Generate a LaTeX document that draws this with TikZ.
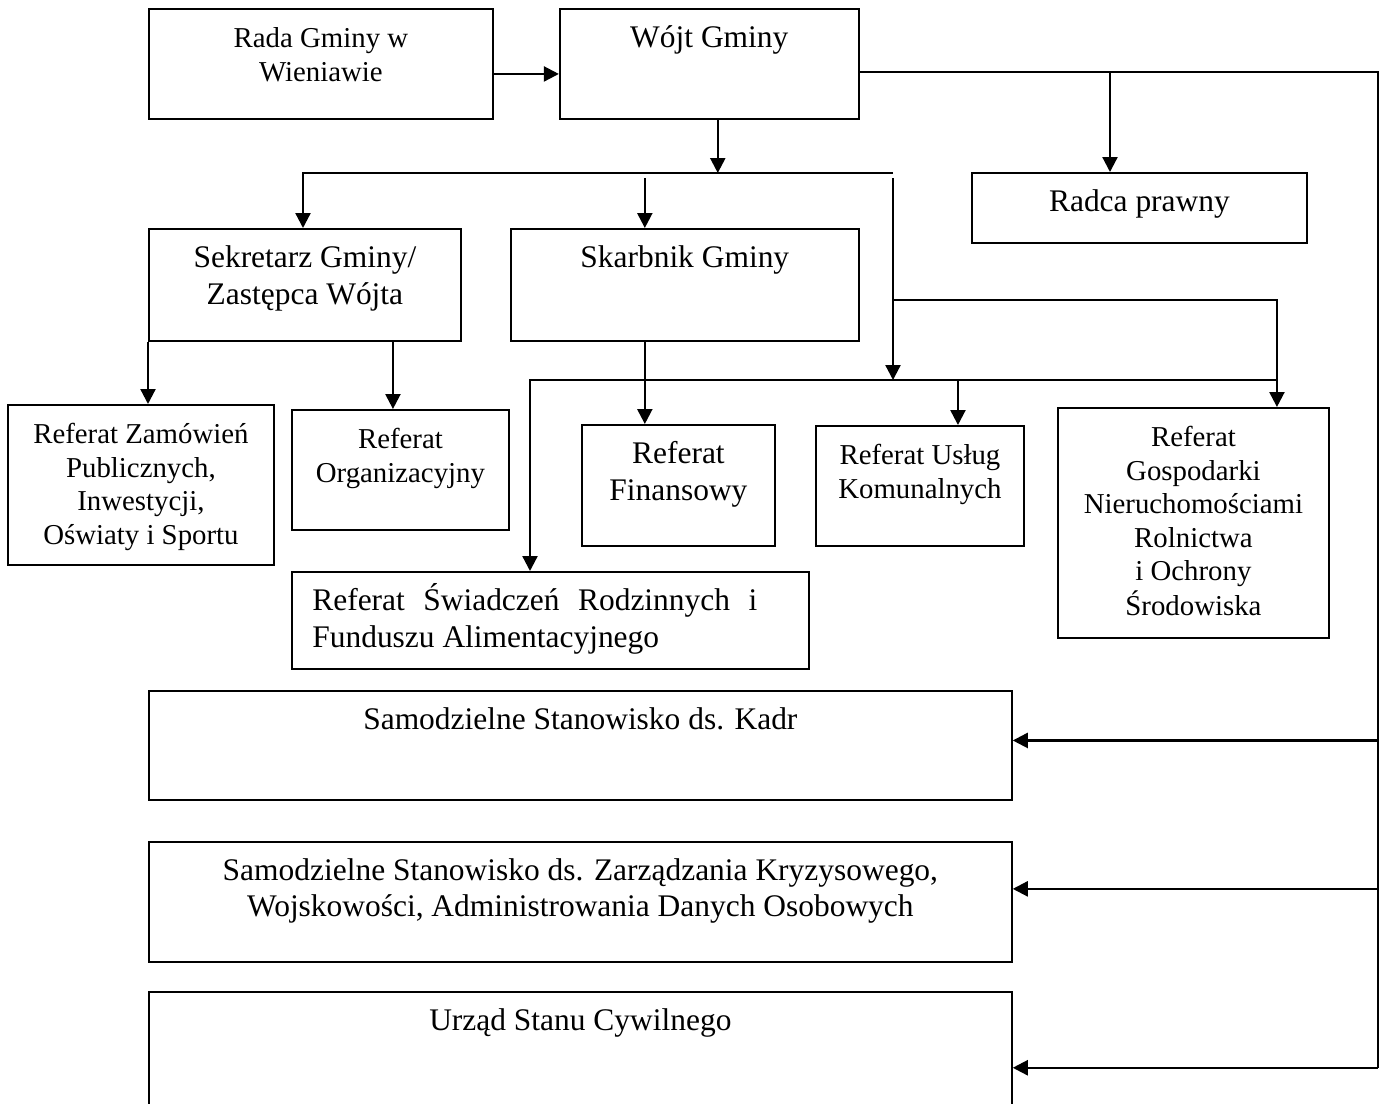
\documentclass[tikz,border=0pt]{standalone}
\usepackage{fontspec}
\setmainfont{Liberation Serif}
\usetikzlibrary{arrows.meta,positioning}

\newcommand{\duzy}{\fontsize{17.9pt}{20.8pt}\selectfont}
\newcommand{\maly}{\fontsize{16.4pt}{19.1pt}\selectfont}
\newcommand{\wiersze}[2][c]{\begin{tabular}[t]{@{}#1@{}}#2\end{tabular}}

\tikzset{
  ramka/.style={draw, line width=1.1pt, inner sep=0pt, anchor=north west},
  napis/.style={anchor=base, yshift=-0.79cm, inner sep=0pt, font=\duzy},
  linia/.style={line width=1.3pt},
  strzalka/.style={-{Triangle[length=0.3cm,width=0.3cm]}, line width=1.3pt}
}

\begin{document}
\begin{tikzpicture}[x=0.02cm, y=-0.02cm]
\useasboundingbox (0,0) rectangle (1380,1103);

% gora
\node[ramka, minimum width=6.88cm, minimum height=2.2cm,
      label={[napis, font=\maly]north:{\wiersze{Rada Gminy w\\Wieniawie}}}] (rada) at (148,8) {};
\node[ramka, right=1.3cm of rada, minimum width=5.98cm, minimum height=2.2cm,
      label={[napis]north:{Wójt Gminy}}] (wojt) {};
\node[ramka, minimum width=6.7cm, minimum height=1.4cm,
      label={[napis]north:{Radca prawny}}] (radca) at (971,172) {};

% sekretarz i skarbnik
\node[ramka, minimum width=6.24cm, minimum height=2.24cm,
      label={[napis]north:{\wiersze{Sekretarz Gminy/\\Zastępca Wójta}}}] (sekretarz) at (148,228) {};
\node[ramka, right=0.96cm of sekretarz, minimum width=6.96cm, minimum height=2.24cm,
      label={[napis]north:{Skarbnik Gminy}}] (skarbnik) {};

% referaty
\node[ramka, minimum width=5.32cm, minimum height=3.2cm,
      label={[napis, font=\maly]north:{\wiersze{Referat Zamówień\\Publicznych,\\Inwestycji,\\Oświaty i Sportu}}}] (zamowien) at (7,404) {};
\node[ramka, minimum width=4.34cm, minimum height=2.4cm,
      label={[napis, font=\maly]north:{\wiersze{Referat\\Organizacyjny}}}] (organiz) at (291,409) {};
\node[ramka, minimum width=3.86cm, minimum height=2.42cm,
      label={[napis]north:{\wiersze{Referat\\Finansowy}}}] (finansowy) at (581,424) {};
\node[ramka, minimum width=4.16cm, minimum height=2.4cm,
      label={[napis, font=\maly]north:{\wiersze{Referat Usług\\Komunalnych}}}] (uslug) at (815,425) {};
\node[ramka, minimum width=5.42cm, minimum height=4.6cm,
      label={[napis, font=\maly]north:{\wiersze{Referat\\Gospodarki\\Nieruchomościami\\Rolnictwa\\i Ochrony\\Środowiska}}}] (gosp) at (1057,407) {};
\node[ramka, minimum width=10.34cm, minimum height=1.94cm,
      label={[napis, anchor=base west, xshift=0.42cm]north west:{\wiersze[l]{\makebox[8.9cm][s]{Referat Świadczeń Rodzinnych i}\\Funduszu Alimentacyjnego}}}] (swiad) at (291,571) {};

% samodzielne stanowiska
\node[ramka, minimum width=17.26cm, minimum height=2.18cm,
      label={[napis]north:{Samodzielne Stanowisko ds. Kadr}}] (kadr) at (148,690) {};
\node[ramka, below=0.8cm of kadr, minimum width=17.26cm, minimum height=2.4cm,
      label={[napis]north:{\wiersze{Samodzielne Stanowisko ds. Zarządzania Kryzysowego,\\Wojskowości, Administrowania Danych Osobowych}}}] (zarz) {};
\node[ramka, below=0.56cm of zarz, minimum width=17.26cm, minimum height=3.04cm,
      label={[napis]north:{Urząd Stanu Cywilnego}}] (usc) {};

% punkty pomocnicze
\coordinate (pion) at (1378,72);
\coordinate (odgRadca) at (1110,72);
\coordinate (szynaL) at (303,173);
\coordinate (szynaP) at (893,173);
\coordinate (rozgal) at (893,300);
\coordinate (szyna2L) at (530,380);
\coordinate (szyna2P) at (1277,380);
\coordinate (skGora) at ([xshift=2.7cm]skarbnik.north west);
\coordinate (skDol) at ([xshift=2.7cm]skarbnik.south west);
\coordinate (gospX) at ([xshift=4.4cm]gosp.north west);
\coordinate (uslugX) at ([xshift=2.86cm]uslug.north west);
\coordinate (orgX) at ([xshift=4.9cm]sekretarz.south west);
\coordinate (kadrP) at ([yshift=0.1cm]kadr.east);
\coordinate (zarzP) at ([yshift=0.26cm]zarz.east);

% Rada -> Wojt
\draw[strzalka] ([yshift=-0.2cm]rada.east) -- ([yshift=-0.2cm]wojt.west);

% Wojt -> prawa linia
\draw[linia] (wojt.east |- pion) -- (pion) -- (pion |- usc.east);
\draw[strzalka] (odgRadca) -- (odgRadca |- radca.north);

% Wojt -> szyna
\draw[strzalka] ([xshift=0.17cm]wojt.south) -- ([xshift=0.17cm]wojt.south |- szynaL);
\draw[strzalka] (szynaP) -- (szynaL) -- (szynaL |- sekretarz.north);
\draw[strzalka, shorten <=0.1cm] (skGora |- szynaL) -- (skGora);
\draw[strzalka, shorten <=0.1cm] (szynaP) -- (szynaP |- szyna2L);
\draw[strzalka] (rozgal) -| (gospX);

% druga szyna
\draw[strzalka] (szyna2P) -- (szyna2L) -- (szyna2L |- swiad.north);
\draw[strzalka] (uslugX |- szyna2L) -- (uslugX);

% Skarbnik, Sekretarz -> referaty
\draw[strzalka] (skDol) -- (skDol |- finansowy.north);
\draw[strzalka] (sekretarz.south west) -- (sekretarz.south west |- zamowien.north);
\draw[strzalka] (orgX) -- (orgX |- organiz.north);

% prawa linia -> stanowiska
\draw[strzalka] (pion |- kadrP) -- (kadrP);
\draw[strzalka] (pion |- zarzP) -- (zarzP);
\draw[strzalka] (pion |- usc.east) -- (usc.east);

\end{tikzpicture}
\end{document}
